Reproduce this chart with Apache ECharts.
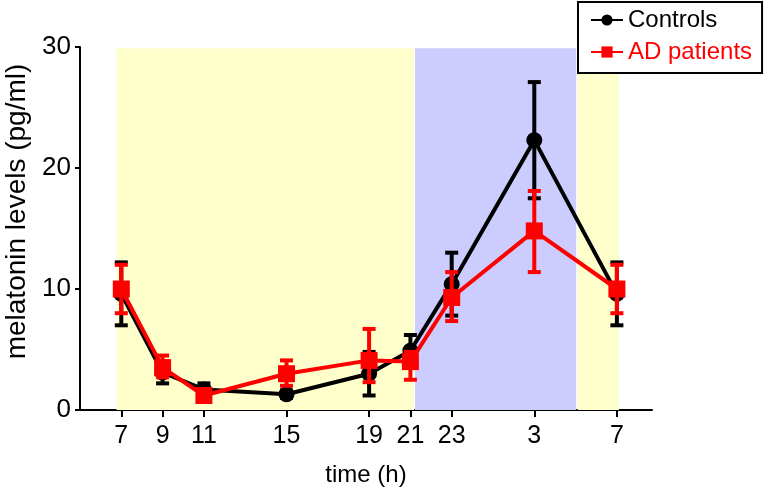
<!DOCTYPE html>
<html>
<head>
<meta charset="utf-8">
<script src="https://cdn.jsdelivr.net/npm/echarts@6/dist/echarts.min.js"></script>
<style>html,body{margin:0;padding:0;background:#fff;}#c{width:768px;height:496px;}</style>
</head>
<body>
<div id="c"></div>
<script>
// Sampling times as hours elapsed since 07:00
const hours = [0, 2, 4, 8, 12, 14, 16, 20, 24];
const tickLabels = ['7', '9', '11', '15', '19', '21', '23', '3', '7'];

const controlsMean = [9.6, 3.1, 1.7, 1.3, 3.0, 4.9, 10.4, 22.3, 9.6];
const controlsLow  = [7.0, 2.2, 1.3, 1.0, 1.2, 3.7, 7.8, 17.5, 7.0];
const controlsHigh = [12.2, 4.0, 2.2, 1.6, 4.8, 6.2, 13.0, 27.1, 12.2];

const adMean = [10.0, 3.5, 1.2, 3.0, 4.1, 4.0, 9.3, 14.8, 10.0];
const adLow  = [8.0, 2.7, 0.9, 2.0, 2.3, 2.5, 7.35, 11.4, 8.0];
const adHigh = [12.0, 4.5, 1.5, 4.1, 6.7, 4.8, 11.4, 18.1, 12.0];

// Shaded periods (hours since 07:00)
const lightPeriods = [[-0.23, 14.18], [22.1, 24.1]];
const darkPeriods = [[14.22, 22.03]];

const FONT = 'Liberation Sans, Arial, sans-serif';
const chart = echarts.init(document.getElementById('c'), null, {renderer: 'canvas'});

function errRender(color) {
  return function (params, api) {
    const x = api.value(0), lo = api.value(1), hi = api.value(2);
    const pLo = api.coord([x, lo]), pHi = api.coord([x, hi]);
    const w = 6.5;
    const st = {stroke: color, lineWidth: 4};
    return {
      type: 'group',
      children: [
        {type: 'line', shape: {x1: pLo[0], y1: pLo[1], x2: pHi[0], y2: pHi[1]}, style: st},
        {type: 'line', shape: {x1: pLo[0] - w, y1: pLo[1], x2: pLo[0] + w, y2: pLo[1]}, style: st},
        {type: 'line', shape: {x1: pHi[0] - w, y1: pHi[1], x2: pHi[0] + w, y2: pHi[1]}, style: st}
      ]
    };
  };
}

const bgAreas = [];
lightPeriods.forEach(p => bgAreas.push([{xAxis: p[0], yAxis: 0, itemStyle: {color: '#ffffcc'}}, {xAxis: p[1], yAxis: 29.9}]));
darkPeriods.forEach(p => bgAreas.push([{xAxis: p[0], yAxis: 0, itemStyle: {color: '#ccccff'}}, {xAxis: p[1], yAxis: 29.9}]));

const option = {
  animation: false,
  backgroundColor: '#fff',
  textStyle: {fontFamily: FONT},
  grid: {left: 80, right: 116, top: 47, bottom: 86, containLabel: false, outerBoundsMode: 'none'},
  legend: {
    left: 578, top: 2,
    orient: 'vertical',
    padding: [6, 10, 9, 12],
    itemGap: 8,
    itemWidth: 32, itemHeight: 14,
    borderColor: '#000', borderWidth: 2,
    backgroundColor: '#fff',
    textStyle: {fontSize: 24, fontFamily: FONT},
    data: [
      {name: 'Controls', textStyle: {color: '#000'}},
      {name: 'AD patients', textStyle: {color: '#ff0000'}}
    ]
  },
  xAxis: {
    type: 'value', min: -2, max: 25.7,
    name: 'time (h)', nameLocation: 'middle', nameGap: 53,
    nameTextStyle: {fontSize: 24, color: '#000', fontFamily: FONT},
    axisLine: {show: true, onZero: false, lineStyle: {color: '#000', width: 2}},
    axisTick: {show: true, customValues: hours, length: 7, lineStyle: {color: '#000', width: 2}},
    axisLabel: {
      customValues: hours, fontSize: 25, color: '#000', margin: 14, fontFamily: FONT,
      formatter: function (v) { const i = hours.indexOf(v); return i >= 0 ? tickLabels[i] : ''; }
    },
    splitLine: {show: false}
  },
  yAxis: {
    type: 'value', min: 0, max: 30, interval: 10,
    name: 'melatonin levels (pg/ml)', nameLocation: 'middle', nameGap: 46, nameRotate: 90,
    nameTextStyle: {fontSize: 28, color: '#000', fontFamily: FONT, padding: [0, 0, 0, 34]},
    axisLine: {show: true, onZero: false, lineStyle: {color: '#000', width: 2}},
    axisTick: {show: true, length: 5, lineStyle: {color: '#000', width: 2}},
    axisLabel: {fontSize: 26, color: '#000', margin: 9, fontFamily: FONT},
    splitLine: {show: false}
  },
  series: [
    {
      name: 'bg', type: 'line', data: [], silent: true, z: 0,
      markArea: {silent: true, data: bgAreas}
    },
    {
      name: 'ctrlErr', type: 'custom', z: 2, silent: true,
      renderItem: errRender('#000'),
      encode: {x: 0, y: [1, 2]},
      data: hours.map((h, i) => [h, controlsLow[i], controlsHigh[i]])
    },
    {
      name: 'Controls', type: 'line', z: 3,
      symbol: 'circle', symbolSize: 16,
      itemStyle: {color: '#000'},
      lineStyle: {color: '#000', width: 4},
      data: hours.map((h, i) => [h, controlsMean[i]])
    },
    {
      name: 'adErr', type: 'custom', z: 4, silent: true,
      renderItem: errRender('#ff0000'),
      encode: {x: 0, y: [1, 2]},
      data: hours.map((h, i) => [h, adLow[i], adHigh[i]])
    },
    {
      name: 'AD patients', type: 'line', z: 5,
      symbol: 'rect', symbolSize: 17,
      itemStyle: {color: '#ff0000'},
      lineStyle: {color: '#ff0000', width: 4},
      data: hours.map((h, i) => [h, adMean[i]])
    }
  ]
};
chart.setOption(option);
</script>
</body>
</html>
